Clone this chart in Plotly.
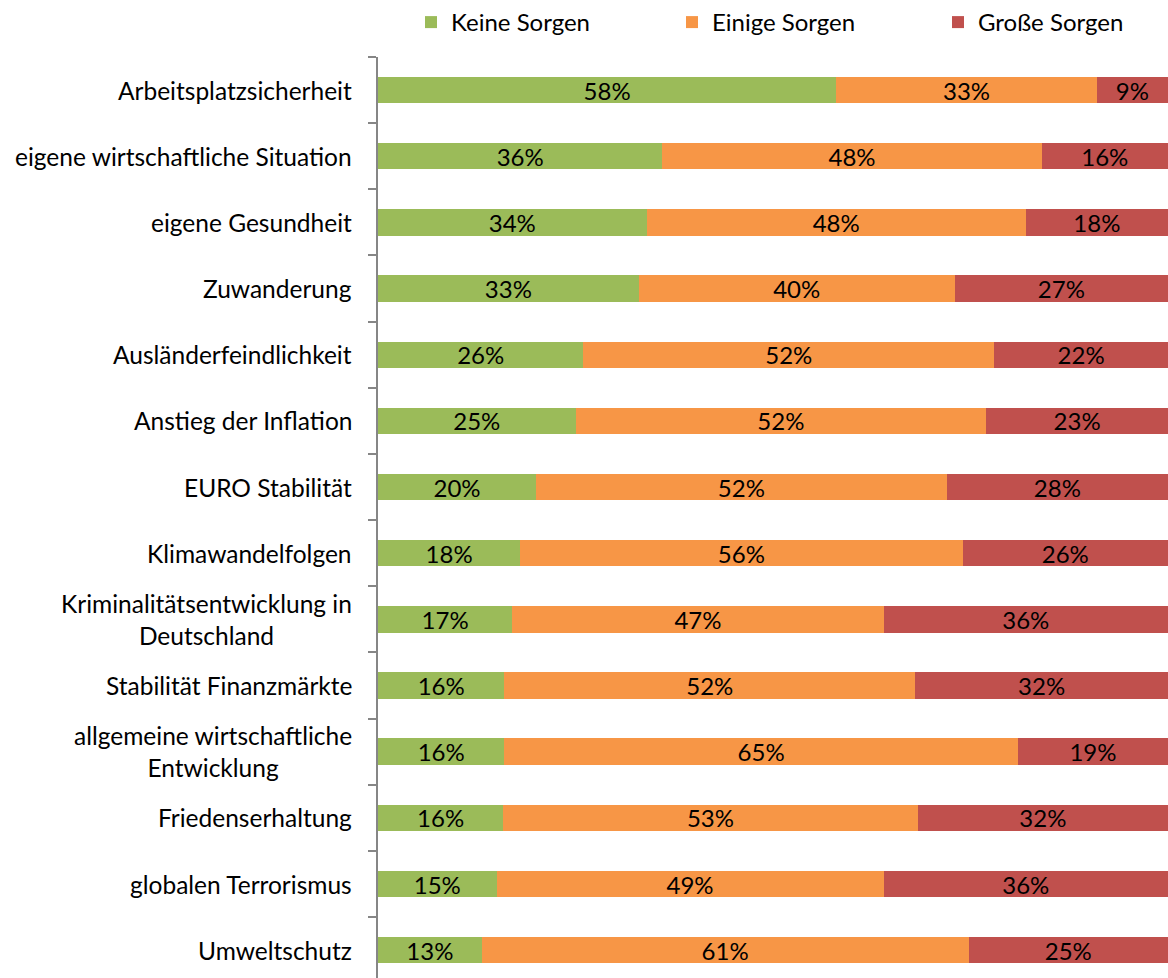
import plotly.graph_objects as go

categories = [
    "Arbeitsplatzsicherheit",
    "eigene wirtschaftliche Situation",
    "eigene Gesundheit",
    "Zuwanderung",
    "Ausländerfeindlichkeit",
    "Anstieg der Inflation",
    "EURO Stabilität",
    "Klimawandelfolgen",
    "Kriminalitätsentwicklung in<br>Deutschland",
    "Stabilität Finanzmärkte",
    "allgemeine wirtschaftliche<br>Entwicklung",
    "Friedenserhaltung",
    "globalen Terrorismus",
    "Umweltschutz",
]
keine = [58, 36, 34, 33, 26, 25, 20, 18, 17, 16, 16, 16, 15, 13]
einige = [33, 48, 48, 40, 52, 52, 52, 56, 47, 52, 65, 53, 49, 61]
grosse = [9, 16, 18, 27, 22, 23, 28, 26, 36, 32, 19, 32, 36, 25]

series = [
    ("Keine Sorgen", keine, "#9BBB59", "legend"),
    ("Einige Sorgen", einige, "#F79646", "legend2"),
    ("Große Sorgen", grosse, "#C0504D", "legend3"),
]

FONT = "Lato, 'Open Sans', sans-serif"
FS = 24

fig = go.Figure()
for name, vals, color, leg in series:
    fig.add_trace(go.Bar(
        name=name,
        y=categories,
        x=vals,
        orientation="h",
        legend=leg,
        marker=dict(color=color, line=dict(width=0)),
        text=[f"{v}%" for v in vals],
        textposition="inside",
        insidetextanchor="middle",
        textfont=dict(color="black", size=FS, family=FONT),
        constraintext="none",
        hoverinfo="skip",
    ))

# category labels as centered annotations (multi-line labels are centered)
for cat in categories:
    fig.add_annotation(
        x=0, xref="paper", y=cat, yref="y",
        text=cat, showarrow=False,
        xanchor="right", yanchor="middle", align="center",
        xshift=-24,
        font=dict(size=24.5, family=FONT, color="black"),
    )

W, H = 1168, 978


def legend_at(px):
    return dict(
        orientation="h",
        x=px / W, xref="container", xanchor="left",
        y=1.0, yref="container", yanchor="top",
        font=dict(size=FS, family=FONT, color="black"),
        itemsizing="constant",
        bgcolor="rgba(0,0,0,0)",
    )


fig.update_layout(
    width=W,
    height=H,
    barmode="stack",
    barnorm="percent",
    bargap=0.6,
    paper_bgcolor="white",
    plot_bgcolor="white",
    margin=dict(l=378, r=0, t=57, b=0, autoexpand=False),
    font=dict(family=FONT, size=FS, color="black"),
    showlegend=True,
    legend=legend_at(411),
    legend2=legend_at(672),
    legend3=legend_at(938),
    uniformtext=dict(minsize=FS, mode="show"),
)

fig.update_xaxes(
    range=[0, 100],
    visible=False,
    showgrid=False,
    zeroline=False,
)
fig.update_yaxes(
    type="category",
    categoryorder="array",
    categoryarray=categories,
    range=[13.42, -0.5],
    showline=True,
    linecolor="#868686",
    linewidth=2,
    ticks="outside",
    tickson="boundaries",
    ticklen=8,
    tickcolor="#868686",
    tickwidth=1.5,
    showticklabels=False,
    showgrid=False,
    zeroline=False,
)

fig.write_html(
    "out.html",
    config={"displayModeBar": False},
    post_script="document.body.style.margin='0';document.body.style.overflow='hidden';",
)
